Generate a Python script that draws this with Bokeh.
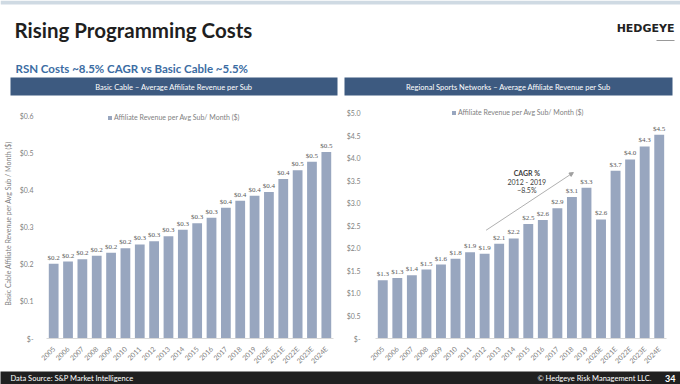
from bokeh.plotting import figure
from bokeh.models import (ColumnDataSource, FactorRange, Range1d, FixedTicker, CustomJSTickFormatter,
                          LabelSet, Label, Legend, LegendItem, Arrow, NormalHead)
from bokeh.layouts import column, row
from bokeh.embed import file_html
from bokeh.resources import INLINE
import math

# ---------------- data ----------------
years = ["2005", "2006", "2007", "2008", "2009", "2010", "2011", "2012", "2013", "2014",
         "2015", "2016", "2017", "2018", "2019", "2020E", "2021E", "2022E", "2023E", "2024E"]
basic_cable = [0.201, 0.207, 0.213, 0.223, 0.231, 0.243, 0.253, 0.262, 0.275, 0.293,
               0.310, 0.325, 0.352, 0.371, 0.384, 0.394, 0.429, 0.453, 0.476, 0.502]
rsn = [1.29, 1.34, 1.40, 1.53, 1.64, 1.77, 1.91, 1.88, 2.10, 2.22,
       2.54, 2.63, 2.89, 3.14, 3.34, 2.64, 3.72, 3.97, 4.26, 4.52]
left_ticks = [0.0, 0.1, 0.2, 0.3, 0.4, 0.5, 0.6]
right_ticks = [0.0, 0.5, 1.0, 1.5, 2.0, 2.5, 3.0, 3.5, 4.0, 4.5, 5.0]

series_name = "Affiliate Revenue per Avg Sub/ Month ($)"
left_title = "Basic Cable \u2013 Average Affiliate Revenue per Sub"
right_title = "Regional Sports Networks \u2013 Average Affiliate Revenue per Sub"
left_axis_title = "Basic Cable Affiliate Revenue per Avg Sub / Month ($)"

# CAGR annotation (synthetic categorical x, data y)
cagr_arrow_x = [7.6, 13.6]
cagr_arrow_y = [2.40, 3.68]
cagr_text = ["CAGR %", "2012 - 2019", "~8.5%"]
cagr_text_x = 10.4
cagr_text_y = [3.68, 3.48, 3.29]

# ---------------- style ----------------
FONT = "Lato"
BAR = "#98a6bf"
NAVY = "#3d5a80"
GRAY = "#7f7f7f"
DGRAY = "#595959"

W = 680
HEAD_H = 96
CHART_H = 275
FOOT_H = 13


def screen_fig(w, h, bg="white"):
    f = figure(width=w, height=h, x_range=Range1d(0, w), y_range=Range1d(h, 0),
               x_axis_type=None, y_axis_type=None, toolbar_location=None,
               output_backend="svg", min_border=0, outline_line_color=None,
               background_fill_color=bg, border_fill_color=bg)
    f.grid.visible = False
    return f


# ---------------- header ----------------
head = screen_fig(W, HEAD_H)
head.quad(left=0, right=W, top=0, bottom=4, fill_color="#cfdae3", line_color=None)
head.add_layout(Label(x=14, y=29, text="Rising Programming Costs", text_font=FONT,
                      text_font_style="bold", text_font_size="20.5px", text_color="#1f1f1f",
                      text_baseline="middle"))
head.add_layout(Label(x=15, y=67.5, text="RSN Costs ~8.5% CAGR vs Basic Cable ~5.5%", text_font=FONT,
                      text_font_style="bold", text_font_size="11.5px", text_color="#3b6ca3",
                      text_baseline="middle"))
head.add_layout(Label(x=674, y=28, text="HEDGEYE", text_font="DejaVu Sans",
                      text_font_style="bold", text_font_size="11px", text_color="#222222",
                      text_align="right", text_baseline="middle"))
head.segment(x0=656, y0=40, x1=674, y1=40, line_color="#999999", line_width=1)
head.quad(left=10, right=337, top=77, bottom=95, fill_color=NAVY, line_color=None)
head.quad(left=344, right=672, top=77, bottom=95, fill_color=NAVY, line_color=None)
head.add_layout(Label(x=173.5, y=86.5, text=left_title, text_font=FONT, text_font_size="7.5px",
                      text_color="white", text_align="center", text_baseline="middle"))
head.add_layout(Label(x=508, y=86.5, text=right_title, text_font=FONT, text_font_size="7.5px",
                      text_color="white", text_align="center", text_baseline="middle"))


# ---------------- charts ----------------
def chart(values, ticks, y_end, width, border_left, border_right, legend_loc, axis_title=None):
    src = ColumnDataSource(dict(x=years, y=values, lab=[f"${v:.1f}" for v in values]))
    p = figure(width=width, height=CHART_H, x_range=FactorRange(*years),
               y_range=Range1d(0, y_end), toolbar_location=None, output_backend="svg",
               min_border_left=border_left, min_border_right=border_right,
               min_border_top=12, min_border_bottom=33, outline_line_color=None)
    p.grid.visible = False
    r = p.vbar(x="x", top="y", width=0.68, source=src, fill_color=BAR, line_color=None)
    p.add_layout(LabelSet(x="x", y="y", text="lab", source=src, y_offset=2,
                          text_align="center", text_baseline="bottom", text_font=FONT,
                          text_font_size="7px", text_color=DGRAY))
    p.x_range.range_padding = 0
    xa = p.xaxis[0]
    xa.major_label_orientation = math.pi / 4
    xa.major_label_text_font = FONT
    xa.major_label_text_font_size = "7px"
    xa.major_label_text_color = GRAY
    xa.axis_line_color = "#d9d9d9"
    xa.major_tick_line_color = None
    xa.minor_tick_line_color = None
    xa.major_label_standoff = 3
    ya = p.yaxis[0]
    ya.ticker = FixedTicker(ticks=ticks)
    ya.formatter = CustomJSTickFormatter(code="return tick < 1e-9 ? '$-' : '$' + tick.toFixed(1);")
    ya.axis_line_color = None
    ya.major_tick_line_color = None
    ya.minor_tick_line_color = None
    ya.major_label_text_font = FONT
    ya.major_label_text_font_size = "7px"
    ya.major_label_text_color = GRAY
    ya.major_label_standoff = 7
    if axis_title:
        ya.axis_label = axis_title
        ya.axis_label_text_font = FONT
        ya.axis_label_text_font_style = "normal"
        ya.axis_label_text_font_size = "7px"
        ya.axis_label_text_color = GRAY
        ya.axis_label_standoff = 5
    leg = Legend(items=[LegendItem(label=series_name, renderers=[r])], location=legend_loc,
                 background_fill_alpha=0, border_line_color=None, padding=1, margin=0,
                 glyph_width=5, glyph_height=5, label_text_font=FONT, label_text_font_size="7px",
                 label_text_color=GRAY, label_standoff=2, label_height=7, spacing=0)
    p.add_layout(leg)
    return p


left = chart(basic_cable, left_ticks, 0.619, 343, 42, 10, (61, 217), left_axis_title)
right = chart(rsn, right_ticks, 5.10, 337, 27, 14, (76, 222))
right.yaxis[0].major_label_standoff = 9

right.add_layout(Arrow(end=NormalHead(size=4, fill_color="#a0a0a0", line_color="#a0a0a0"),
                       x_start=cagr_arrow_x[0], y_start=cagr_arrow_y[0],
                       x_end=cagr_arrow_x[1], y_end=cagr_arrow_y[1],
                       line_color="#b0b0b0", line_width=1))
for i, t in enumerate(cagr_text):
    right.add_layout(Label(x=cagr_text_x, y=cagr_text_y[i], text=t, text_font=FONT,
                           text_font_size="7px", text_color="#404040",
                           text_font_style="bold" if i == 0 else "normal",
                           text_align="center", text_baseline="middle"))

# ---------------- footer ----------------
foot = screen_fig(W, FOOT_H, bg="#202020")
foot.add_layout(Label(x=10, y=7, text="Data Source: S&P Market Intelligence", text_font=FONT,
                      text_font_size="7.5px", text_color="white", text_baseline="middle"))
foot.add_layout(Label(x=651, y=7, text="\u00a9 Hedgeye Risk Management LLC.", text_font=FONT,
                      text_font_size="7.5px", text_color="white", text_align="right",
                      text_baseline="middle"))
foot.add_layout(Label(x=675, y=7, text="34", text_font=FONT, text_font_style="bold",
                      text_font_size="9px", text_color="white", text_align="right",
                      text_baseline="middle"))

layout = column(head, row(left, right, spacing=0), foot, spacing=0)
open("out.html", "w").write(file_html(layout, INLINE))
